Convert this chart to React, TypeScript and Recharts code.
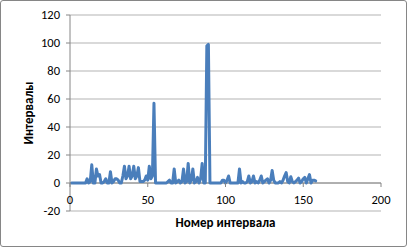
import React from "react";
import {
  LineChart,
  Line,
  XAxis,
  YAxis,
  CartesianGrid,
  ReferenceLine,
} from "recharts";

// interval number 1..158 and value per interval
const intervalValues = [
  0, 0, 0, 0, 0, 0, 0, 0, 0, 0,
  3, 0, 1, 13, 0, 0, 10, 5, 6, 0,
  0, 1, 3, 0, 0, 8, 0, 1, 3, 3,
  2, 0, 0, 5, 12, 3, 5, 12, 3, 5,
  12, 3, 5, 11, 1, 1, 1, 2, 5, 2,
  12, 3, 5, 57, 0, 0, 0, 0, 0, 0,
  0, 0, 1, 2, 0, 0, 10, 0, 1, 2,
  0, 1, 10, 0, 1, 14, 0, 2, 10, 0,
  1, 4, 0, 3, 14, 0, 0, 98, 99, 0,
  0, 0, 0, 0, 0, 0, 0, 2, 2, 0,
  2, 5, 0, 0, 0, 0, 0, 0, 10, 0,
  1, 0, 0, 1, 5, 0, 1, 5, 0, 1,
  0, 2, 5, 0, 1, 2, 3, 0, 2, 9,
  2, 0, 0, 0, 1, 0, 2, 5, 7.5, 1,
  0, 4.5, 1, 0, 1, 2, 3.5, 0, 1, 3,
  4, 0, 3, 6, 0, 2, 2, 1.5,
];

const xTicks = [0, 50, 100, 150, 200];
const yTicks = [-20, 0, 20, 40, 60, 80, 100, 120];

const data = intervalValues.map((v, i) => ({ x: i + 1, v }));

const font = "Carlito, Lato, sans-serif";

const XTick = (props: any) => {
  const { x, y, payload } = props;
  // x axis crosses at value 0, one grid step (28px) above the bottom
  const y0 = y - 28;
  return (
    <g>
      <line x1={x} y1={y0} x2={x} y2={y0 + 4} stroke="#868686" />
      <text
        x={x}
        y={y0 + 21}
        textAnchor="middle"
        fontSize={12.5}
        fontFamily={font}
        fill="#000"
      >
        {payload.value}
      </text>
    </g>
  );
};

export default function App() {
  return (
    <div
      style={{
        position: "absolute",
        left: 0,
        top: 0,
        width: 407,
        height: 247,
        background: "#fff",
      }}
    >
      <LineChart
        width={407}
        height={247}
        data={data}
        margin={{ top: 15, right: 26, left: 0, bottom: 0 }}
      >
        <CartesianGrid vertical={false} stroke="#b3b3b3" />
        <XAxis
          type="number"
          dataKey="x"
          domain={[0, 200]}
          ticks={xTicks}
          height={36}
          axisLine={false}
          tickLine={false}
          tickSize={0}
          tickMargin={0}
          tick={<XTick />}
          interval={0}
          label={{
            content: (p: any) => (
              <text
                x={p.viewBox.x + p.viewBox.width / 2}
                y={p.viewBox.y + 16}
                textAnchor="middle"
                fontSize={13}
                fontWeight="bold"
                fontFamily={font}
                fill="#000"
              >
                Номер интервала
              </text>
            ),
          }}
        />
        <YAxis
          domain={[-20, 120]}
          ticks={yTicks}
          width={70}
          interval={0}
          axisLine={{ stroke: "#868686" }}
          tickLine={{ stroke: "#868686" }}
          tickSize={4}
          tickMargin={6}
          tick={{ fontSize: 12.5, fontFamily: font, fill: "#000" }}
          label={{
            content: (p: any) => {
              const cx = p.viewBox.x + 28;
              const cy = p.viewBox.y + p.viewBox.height / 2;
              return (
                <text
                  x={cx}
                  y={cy}
                  transform={`rotate(-90 ${cx} ${cy})`}
                  textAnchor="middle"
                  dominantBaseline="central"
                  fontSize={13}
                  fontWeight="bold"
                  fontFamily={font}
                  fill="#000"
                >
                  Интервалы
                </text>
              );
            },
          }}
        />
        <ReferenceLine y={0} stroke="#868686" />
        <Line
          type="linear"
          dataKey="v"
          stroke="#4a7ebb"
          strokeWidth={3}
          strokeLinejoin="round"
          strokeLinecap="round"
          dot={false}
          isAnimationActive={false}
        />
      </LineChart>
      <div
        style={{
          position: "absolute",
          left: 0,
          top: 0,
          width: 407,
          height: 247,
          boxSizing: "border-box",
          border: "1px solid #868686",
          borderRadius: 3,
          pointerEvents: "none",
        }}
      />
    </div>
  );
}
